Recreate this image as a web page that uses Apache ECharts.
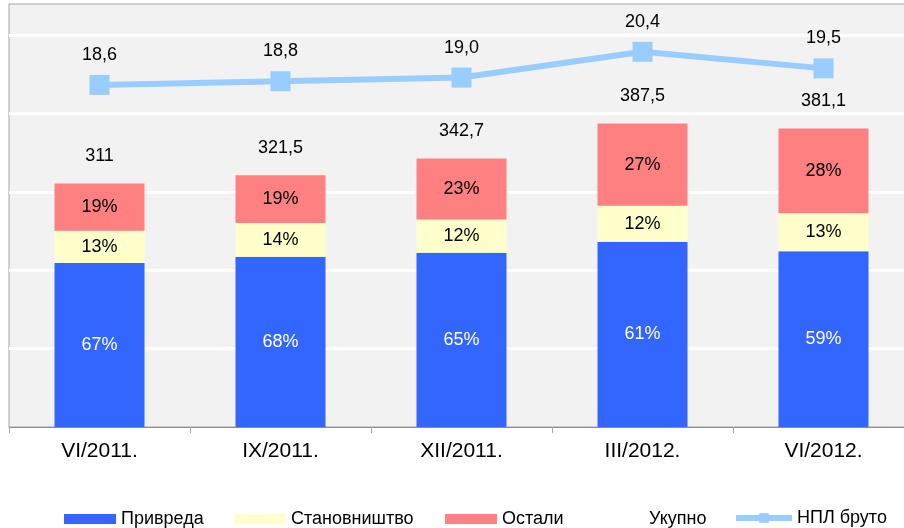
<!DOCTYPE html>
<html>
<head>
<meta charset="utf-8">
<script src="https://cdn.jsdelivr.net/npm/echarts@6/dist/echarts.min.js"></script>
<style>
  html, body { margin: 0; padding: 0; background: #fff; }
  #chart { width: 904px; height: 528px; }
</style>
</head>
<body>
<div id="chart"></div>
<script>
// квартали
const categories = ['VI/2011.', 'IX/2011.', 'XII/2011.', 'III/2012.', 'VI/2012.'];

// износи по сегментима (очитано са слике)
const privreda = [209.5, 217.5, 222.5, 236.5, 224.5];
const stanovnistvo = [41, 43, 42.5, 46, 48.5];
const ostali = [60.5, 61, 77.7, 105, 108.1];

// учешћа која се пишу у стубовима
const privredaPct = [67, 68, 65, 61, 59];
const stanovnistvoPct = [13, 14, 12, 12, 13];
const ostaliPct = [19, 19, 23, 27, 28];

// укупно и НПЛ бруто
const ukupno = [311, 321.5, 342.7, 387.5, 381.1];
const nplBruto = [18.6, 18.8, 19.0, 20.4, 19.5];

const font = 'Liberation Sans, Arial, sans-serif';
const fmt = v => String(v).replace('.', ',');

function pctLabel(arr, color) {
    return {
        show: true,
        position: 'inside',
        color: color,
        fontSize: 18,
        fontFamily: font,
        formatter: p => arr[p.dataIndex] + '%'
    };
}

function legendFor(name, left, w, h, top, icon) {
    let lg = {
        data: [name],
        left: left,
        top: top,
        itemWidth: w,
        itemHeight: h,
        selectedMode: false,
        padding: 0,
        textStyle: { fontSize: 18, fontFamily: font, color: '#000' }
    };
    if (icon) lg.icon = icon;
    return lg;
}

const chart = echarts.init(document.getElementById('chart'), null, { renderer: 'canvas' });

let nplLegend = legendFor('НПЛ бруто', 733, 56, 12, 509);
nplLegend.lineStyle = { width: 6 };

chart.setOption({
    backgroundColor: '#fff',
    animation: false,
    grid: {
        left: 9,
        top: 4,
        width: 905,
        bottom: 101,
        outerBoundsMode: 'none',
        containLabel: false,
        show: true,
        backgroundColor: '#F2F2F2',
        borderColor: '#A6A6A6',
        borderWidth: 1
    },
    legend: [
        legendFor('Привреда', 64, 52, 10, 510, 'rect'),
        legendFor('Становништво', 234, 52, 10, 510, 'rect'),
        legendFor('Остали', 445, 52, 10, 510, 'rect'),
        legendFor('Укупно', 592, 52, 10, 510, 'rect'),
        nplLegend
    ],
    xAxis: {
        type: 'category',
        data: categories,
        axisLine: { lineStyle: { color: '#8C8C8C', width: 1 } },
        axisTick: { show: true, length: 6, lineStyle: { color: '#A6A6A6' } },
        axisLabel: { fontSize: 21, fontFamily: font, color: '#000', margin: 14 }
    },
    yAxis: [{
        type: 'value',
        min: 0,
        max: 540,
        interval: 100,
        axisLabel: { show: false },
        axisLine: { show: false },
        axisTick: { show: false },
        splitLine: {
            lineStyle: {
                width: 3,
                color: ['rgba(0,0,0,0)', '#fff', '#fff', '#fff', '#fff', '#fff', 'rgba(0,0,0,0)']
            }
        }
    }, {
        type: 'value',
        min: 0,
        max: 23,
        show: false,
        splitLine: { show: false }
    }],
    series: [{
        name: 'Привреда',
        type: 'bar',
        stack: 'npl',
        barWidth: 90,
        data: privreda,
        itemStyle: { color: '#3366FF' },
        label: pctLabel(privredaPct, '#fff')
    }, {
        name: 'Становништво',
        type: 'bar',
        stack: 'npl',
        barWidth: 90,
        data: stanovnistvo,
        itemStyle: { color: '#FFFFCC' },
        label: pctLabel(stanovnistvoPct, '#000')
    }, {
        name: 'Остали',
        type: 'bar',
        stack: 'npl',
        barWidth: 90,
        data: ostali,
        itemStyle: { color: '#FF8080' },
        label: pctLabel(ostaliPct, '#000')
    }, {
        name: 'Укупно',
        type: 'line',
        data: ukupno,
        symbol: 'circle',
        symbolSize: 1,
        itemStyle: { color: 'rgba(0,0,0,0)' },
        lineStyle: { opacity: 0 },
        label: {
            show: true,
            position: 'top',
            distance: 18,
            color: '#000',
            fontSize: 18,
            fontFamily: font,
            formatter: p => fmt(p.value)
        },
        z: 5
    }, {
        name: 'НПЛ бруто',
        type: 'line',
        yAxisIndex: 1,
        data: nplBruto,
        symbol: 'rect',
        symbolSize: 20,
        itemStyle: { color: '#99CCFF' },
        lineStyle: { color: '#99CCFF', width: 6 },
        label: {
            show: true,
            position: 'top',
            distance: 11,
            color: '#000',
            fontSize: 18,
            fontFamily: font,
            formatter: p => p.value.toFixed(1).replace('.', ',')
        },
        z: 6
    }]
});
</script>
</body>
</html>
